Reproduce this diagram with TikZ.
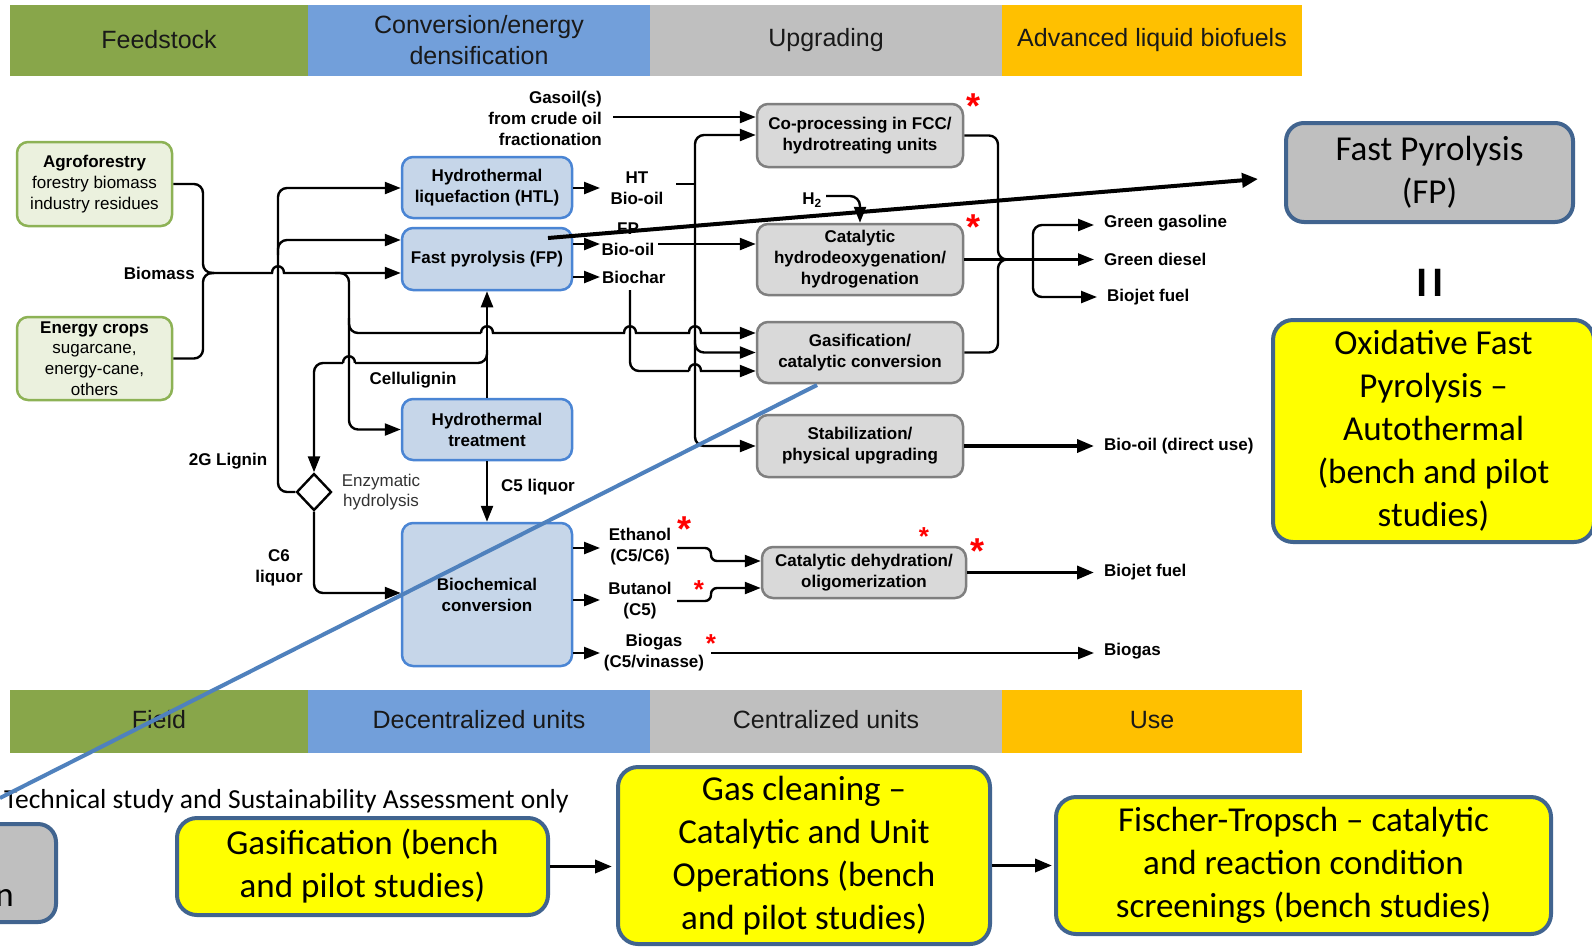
\documentclass[tikz,border=0pt]{standalone}
\usepackage{fontspec}
\setmainfont{Liberation Sans}
\newfontfamily\calfont{Carlito}
\usetikzlibrary{arrows.meta,shapes.geometric}
\definecolor{bandgreen}{HTML}{88A64A}
\definecolor{bandblue}{HTML}{729FDA}
\definecolor{bandgray}{HTML}{BFBFBF}
\definecolor{bandorange}{HTML}{FFC000}
\definecolor{gfill}{HTML}{EBF1DE}
\definecolor{gdraw}{HTML}{8DB255}
\definecolor{bfill}{HTML}{C6D6E9}
\definecolor{bdraw}{HTML}{4A85D4}
\definecolor{gyfill}{HTML}{D9D9D9}
\definecolor{gydraw}{HTML}{7F7F7F}
\definecolor{navy}{HTML}{41648F}
\definecolor{steel}{HTML}{4F81BD}
\definecolor{yell}{HTML}{FFFF00}
\definecolor{fpgray}{HTML}{BFBFBF}
\newcommand\lblfont{\fontsize{17}{21}\selectfont\bfseries}
\newcommand\regfont{\fontsize{17}{20.7}\selectfont}
\newcommand\bandfont{\fontsize{25}{31}\selectfont}
\newcommand\calbig{\calfont\fontsize{35}{43}\selectfont}
\newcommand\techfont{\calfont\fontsize{27.5}{33}\selectfont}
\newcommand\hopover[2]{.. controls (#1-6,#2-9) and (#1+6,#2-9) .. (#1+6,#2)}
\newcommand\hopback[2]{.. controls (#1+6,#2-9) and (#1-6,#2-9) .. (#1-6,#2)}
\tikzset{
  ln/.style={line width=2.4pt, draw=black},
  arr/.style={ln, -{Triangle[length=16pt,width=12pt]}},
  outarr/.style={arr, shorten >=10pt},
  thickarr/.style={line width=3.6pt, draw=black, -{Triangle[length=17pt,width=13pt]}},
  bluebox/.style={draw=bdraw, fill=bfill, line width=2.5pt, rounded corners=11pt, align=center, font=\lblfont, inner sep=0pt},
  graybox/.style={draw=gydraw, fill=gyfill, line width=2.5pt, rounded corners=11pt, align=center, font=\lblfont, inner sep=0pt},
  greenbox/.style={draw=gdraw, fill=gfill, line width=2.5pt, rounded corners=11pt, align=center, font=\regfont, inner sep=0pt},
  ybox/.style={draw=navy, fill=yell, line width=4pt, rounded corners=20pt, align=center, font=\calbig, inner sep=0pt},
  fpbox/.style={draw=navy, fill=fpgray, line width=4pt, rounded corners=18pt, align=center, font=\calbig, inner sep=0pt},
  lbl/.style={font=\lblfont, align=center, inner sep=0pt},
  rlbl/.style={font=\lblfont, anchor=west, inner sep=0pt},
  bandtxt/.style={font=\bandfont, align=center, inner sep=0pt, text=black!90},
  astbig/.style={text=red, font=\fontsize{36}{36}\selectfont\bfseries, inner sep=0pt, anchor=base},
  astsmall/.style={text=red, font=\fontsize{26}{26}\selectfont\bfseries, inner sep=0pt, anchor=base},
}
\begin{document}
\begin{tikzpicture}[x=1pt,y=-1pt]
\clip (0,0) rectangle (1592,946);
\fill[white] (0,0) rectangle (1592,946);
% ---------- top bands
\fill[bandgreen] (10,5) rectangle (308,76);
\fill[bandblue] (308,5) rectangle (650,76);
\fill[bandgray] (650,5) rectangle (1002,76);
\fill[bandorange] (1002,5) rectangle (1302,76);
\node[bandtxt] (tfeed) at (159,40) {Feedstock};
\node[bandtxt] (tconv) at (479,40) {Conversion/energy\\densification};
\node[bandtxt] (tupg) at (826,40) {Upgrading};
\node[bandtxt] (tadv) at (1152,40) {Advanced liquid biofuels};
% ---------- bottom bands
\fill[bandgreen] (10,690) rectangle (308,753);
\fill[bandblue] (308,690) rectangle (650,753);
\fill[bandgray] (650,690) rectangle (1002,753);
\fill[bandorange] (1002,690) rectangle (1302,753);
\node[bandtxt] (bfield) at (159,720) {Field};
\node[bandtxt] (bdec) at (479,720) {Decentralized units};
\node[bandtxt] (bcen) at (826,720) {Centralized units};
\node[bandtxt] (buse) at (1152,720) {Use};
% ---------- feedstock boxes
\node[greenbox, minimum width=155, minimum height=84] (agro) at (94.5,184) {\textbf{Agroforestry}\\forestry biomass\\industry residues};
\node[greenbox, minimum width=155, minimum height=83] (ecrop) at (94.5,358.5) {\textbf{Energy crops}\\sugarcane,\\energy-cane,\\others};
% ---------- conversion boxes
\node[bluebox, minimum width=170, minimum height=61] (htl) at (487,187.5) {Hydrothermal\\liquefaction (HTL)};
\node[bluebox, minimum width=170, minimum height=62] (fp) at (487,259) {Fast pyrolysis (FP)};
\node[bluebox, minimum width=170, minimum height=61] (htt) at (487,429.5) {Hydrothermal\\treatment};
\node[bluebox, minimum width=170, minimum height=143] (bioc) at (487,594.5) {Biochemical\\conversion};
% ---------- upgrading boxes
\node[graybox, minimum width=206, minimum height=63] (cop) at (860,135.5) {Co-processing in FCC/\\hydrotreating units};
\node[graybox, minimum width=206, minimum height=71] (hdo) at (860,259.5) {Catalytic\\hydrodeoxygenation/\\hydrogenation};
\node[graybox, minimum width=206, minimum height=61] (gasc) at (860,352.5) {Gasification/\\catalytic conversion};
\node[graybox, minimum width=206, minimum height=62] (stab) at (860,446) {Stabilization/\\physical upgrading};
\node[graybox, minimum width=204, minimum height=51] (cdo) at (864,572.5) {Catalytic dehydration/\\oligomerization};
% ---------- diamond
\node[diamond, draw, line width=2.4pt, fill=white, minimum width=35, minimum height=37, inner sep=0pt] (enz) at (314,492) {};
% ---------- labels
\node[lbl, anchor=east] (biomass) at (195,273) {Biomass};
\node[lbl] (cellu) at (413,380) {Cellulignin};
\node[lbl] (lig2g) at (228,461) {2G Lignin};
\node[lbl] (c6) at (279,568) {C6\\liquor};
\node[lbl] (c5) at (538,487) {C5 liquor};
\node[font=\regfont, align=center, inner sep=0pt, text=black!80] (enzt) at (381,492) {Enzymatic\\hydrolysis};
\node[lbl, align=right, anchor=east] (gasoil) at (602,118) {Gasoil(s)\\from crude oil\\fractionation};
\node[lbl] (htbo) at (637,188) {HT\\Bio-oil};
\node[lbl] (fpbo) at (628,239) {FP\\Bio-oil};
\node[lbl, anchor=west] (biochar) at (602,277) {Biochar};
\node[lbl] (h2) at (812,200) {H\textsubscript{2}};
\node[lbl] (eth) at (640,547) {Ethanol\\(C5/C6)};
\node[lbl] (but) at (640,601) {Butanol\\(C5)};
\node[lbl] (bgas) at (654,653) {Biogas\\(C5/vinasse)};
\node[rlbl] (gg) at (1104,223) {Green gasoline};
\node[rlbl] (gd) at (1104,259.5) {Green diesel};
\node[rlbl] (bj) at (1107,297) {Biojet fuel};
\node[rlbl] (bdu) at (1104,446) {Bio-oil (direct use)};
\node[rlbl] (bj2) at (1104,572.5) {Biojet fuel};
\node[rlbl] (bgs) at (1104,651) {Biogas};
% ---------- asterisks
\node[astbig] (a1) at (973,118) {*};
\node[astbig] (a2) at (973,239) {*};
\node[astbig] (a3) at (684,541) {*};
\node[astsmall] (a4) at (699,598) {*};
\node[astsmall] (a5) at (711,652) {*};
\node[astsmall] (a6) at (924,545) {*};
\node[astbig] (a7) at (977,563) {*};
% ---------- feedstock connectors
\draw[ln, rounded corners=9] (agro.east) -- (203,184) -- (203,273) -- (214,273);
\draw[ln, rounded corners=9] (ecrop.east) -- (203,358.5) -- (203,273) -- (214,273);
\draw[arr] (210,273) -- (272,273) \hopover{278}{273} -- (fp.west |- 0,273);
\draw[arr, rounded corners=9] (335,273) -- (349,273) -- (349,429.5) -- (htt.west);
\draw[ln, rounded corners=9] (349,318) -- (349,333) -- (481,333);
\draw[arr] (481,333) \hopover{487}{333} -- (624,333) \hopover{630}{333} -- (689,333) \hopover{695}{333} -- (gasc.west |- 0,333);
% 2G lignin
\draw[arr, rounded corners=9] (enz.west) -- (278,492) -- (278,188) -- (htl.west |- 0,188);
\draw[arr, rounded corners=9] (278,255) -- (278,240) -- (fp.west |- 0,240);
% cellulignin
\draw[arr] (htt.north) -- (fp.south);
\draw[ln, rounded corners=9] (487,350) -- (487,363) -- (355,363);
\draw[ln] (355,363) \hopback{349}{363};
\draw[arr, rounded corners=9] (343,363) -- (314,363) -- (enz.north);
% C5 / C6
\draw[arr] (htt.south) -- (bioc.north);
\draw[arr, rounded corners=9] (enz.south) -- (314,593) -- (bioc.west |- 0,593);
% conversion outputs
\draw[arr] (htl.east |- 0,188) -- (600,188);
\draw[arr] (fp.east |- 0,244) -- (600,244);
\draw[arr] (fp.east |- 0,277) -- (600,277);
\draw[arr] (658,244) -- (hdo.west |- 0,244);
\draw[arr] (613,117) -- (cop.west |- 0,117);
\draw[ln] (676,184) -- (695,184);
\draw[arr, rounded corners=9] (695,300) -- (695,135) -- (cop.west |- 0,135);
\draw[arr, rounded corners=9] (695,300) -- (695,446) -- (stab.west);
\draw[arr, rounded corners=9] (695,340) -- (695,352.5) -- (gasc.west);
\draw[ln, rounded corners=9] (630,290) -- (630,371) -- (689,371);
\draw[arr] (689,371) \hopover{695}{371} -- (gasc.west |- 0,371);
% H2
\draw[arr, rounded corners=10] (826,196) -- (860,196) -- (hdo.north);
% upgrading outputs
\draw[ln, rounded corners=9] (cop.east) -- (998,135.5) -- (998,259.5) -- (1012,259.5);
\draw[ln, rounded corners=9] (gasc.east) -- (998,352.5) -- (998,259.5) -- (1012,259.5);
\draw[outarr] (hdo.east) -- (gd.west);
\draw[arr, rounded corners=9] (1033,259.5) -- (1033,225) -- (1094,225);
\draw[outarr, rounded corners=9] (1033,259.5) -- (1033,297) -- (bj.west);
\draw[thickarr, shorten >=10pt] (stab.east) -- (bdu.west);
% biochemical outputs
\draw[arr] (bioc.east |- 0,548) -- (600,548);
\draw[arr] (bioc.east |- 0,600) -- (600,600);
\draw[arr] (bioc.east |- 0,653) -- (600,653);
\draw[arr, rounded corners=6] (677,548) -- (711,548) -- (711,561) -- (cdo.west |- 0,561);
\draw[arr, rounded corners=6] (677,601) -- (711,601) -- (711,588) -- (cdo.west |- 0,588);
\draw[thickarr, shorten >=10pt] (cdo.east) -- (bj2.west);
\draw[arr] (711,653) -- (1094,653);
% ---------- right-hand boxes
\node[fpbox, minimum width=287, minimum height=99] (rfp) at (1429.5,172.5) {Fast Pyrolysis\\(FP)};
\node[font=\calfont\fontsize{42}{42}\selectfont\bfseries, inner sep=0pt] (eq) at (1430,283) {I\hspace{5pt}I};
\node[ybox, minimum width=321, minimum height=222] (ofp) at (1433.5,431) {Oxidative Fast\\Pyrolysis –\\Autothermal\\(bench and pilot\\studies)};
% ---------- bottom boxes
\node[fpbox, minimum width=358, minimum height=98, anchor=east] (lbox) at (58,873) {};
\node[font=\calbig, anchor=east, inner sep=0pt] (ltxt) at (14,898) {n};
\node[font=\techfont, anchor=west, inner sep=0pt] (tech) at (4,801) {Technical study and Sustainability Assessment only};
\node[ybox, minimum width=371, minimum height=97] (gasi) at (362.5,866.5) {Gasification (bench\\and pilot studies)};
\node[ybox, minimum width=372, minimum height=177] (gcl) at (804,855.5) {Gas cleaning –\\Catalytic and Unit\\Operations (bench\\and pilot studies)};
\node[ybox, minimum width=495, minimum height=137] (ft) at (1303.5,865.5) {Fischer-Tropsch – catalytic\\and reaction condition\\screenings (bench studies)};
\draw[thickarr, shorten >=4pt] (gasi.east) -- (gcl.west |- gasi.east);
\draw[thickarr, shorten >=2pt] (gcl.east |- ft.west) -- (ft.west);
% ---------- overlay lines
\coordinate (fpstart) at (548,238);
\coordinate (fpend) at (1258,179);
\draw[line width=4pt, -{Triangle[length=16pt,width=14pt]}] (fpstart) -- (fpend);
\coordinate (bluestart) at (817,385);
\coordinate (blueend) at (0,798);
\draw[steel, line width=4pt] (bluestart) -- (blueend);
\end{tikzpicture}
\end{document}
